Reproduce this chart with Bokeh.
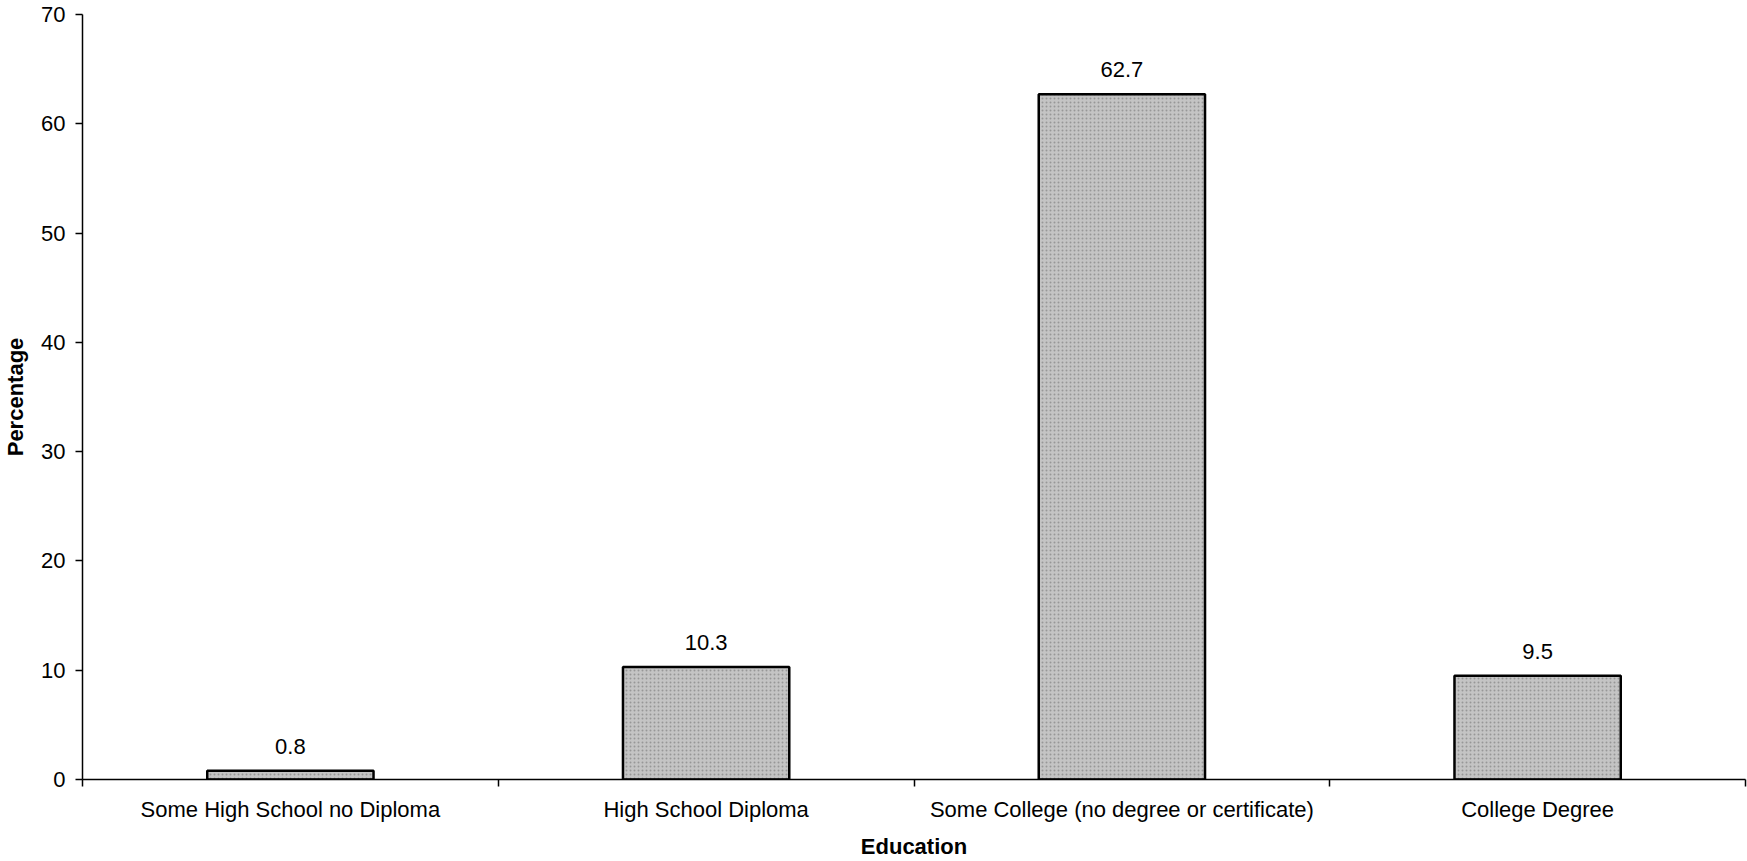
from bokeh.plotting import figure
from bokeh.models import Range1d, FixedTicker, ColumnDataSource
from bokeh.embed import file_html
from bokeh.resources import INLINE
from bokeh.core.properties import value

categories = ["Some High School no Diploma", "High School Diploma",
              "Some College (no degree or certificate)", "College Degree"]
percentages = [0.8, 10.3, 62.7, 9.5]
y_ticks = [0, 10, 20, 30, 40, 50, 60, 70]

FONT = "Liberation Sans"
FS = "22px"

xs = [i + 0.5 for i in range(len(categories))]
src = ColumnDataSource(dict(x=xs, top=percentages,
                            label=[f"{v:.1f}" for v in percentages]))

p = figure(width=1747, height=861, output_backend="svg", toolbar_location=None,
           x_range=Range1d(0, len(categories)), y_range=Range1d(0, 70),
           min_border_left=80, min_border_top=14, min_border_bottom=80,
           min_border_right=2)
p.outline_line_color = None
p.xgrid.visible = False
p.ygrid.visible = False
p.background_fill_color = "white"
p.border_fill_color = "white"

p.vbar(x="x", top="top", bottom=0, width=0.4, source=src,
       fill_color="#c4c4c4", line_color="black", line_width=2.5,
       hatch_pattern=".", hatch_color="#7a7a7a", hatch_scale=4, hatch_alpha=0.6)

p.text(x="x", y="top", text="label", source=src, y_offset=-17,
       text_align="center", text_baseline="bottom",
       text_font=value(FONT), text_font_size=FS, text_color="black")

# x axis: category labels at centers, ticks at category boundaries
p.xaxis.ticker = FixedTicker(ticks=xs, minor_ticks=list(range(len(categories) + 1)))
p.xaxis.major_label_overrides = {x: c for x, c in zip(xs, categories)}
p.xaxis.major_tick_out = 0
p.xaxis.major_tick_in = 0
p.xaxis.minor_tick_out = 7
p.xaxis.minor_tick_in = 0
p.xaxis.minor_tick_line_color = "black"
p.xaxis.minor_tick_line_width = 1.5
p.xaxis.major_label_standoff = 10
p.xaxis.axis_label = "Education"
p.xaxis.axis_label_standoff = 9

p.yaxis.ticker = FixedTicker(ticks=y_ticks, minor_ticks=[])
p.yaxis.major_tick_out = 7
p.yaxis.major_tick_in = 0
p.yaxis.minor_tick_out = 0
p.yaxis.minor_tick_in = 0
p.yaxis.major_label_standoff = 10
p.yaxis.axis_label = "Percentage"
p.yaxis.axis_label_standoff = 10

for ax in (p.xaxis, p.yaxis):
    ax.axis_line_color = "black"
    ax.axis_line_width = 1.5
    ax.major_tick_line_color = "black"
    ax.major_tick_line_width = 1.5
    ax.major_label_text_font = FONT
    ax.major_label_text_font_size = FS
    ax.major_label_text_color = "black"
    ax.axis_label_text_font = FONT
    ax.axis_label_text_font_size = FS
    ax.axis_label_text_font_style = "bold"
    ax.axis_label_text_color = "black"

open("out.html", "w").write(file_html(p, INLINE))
